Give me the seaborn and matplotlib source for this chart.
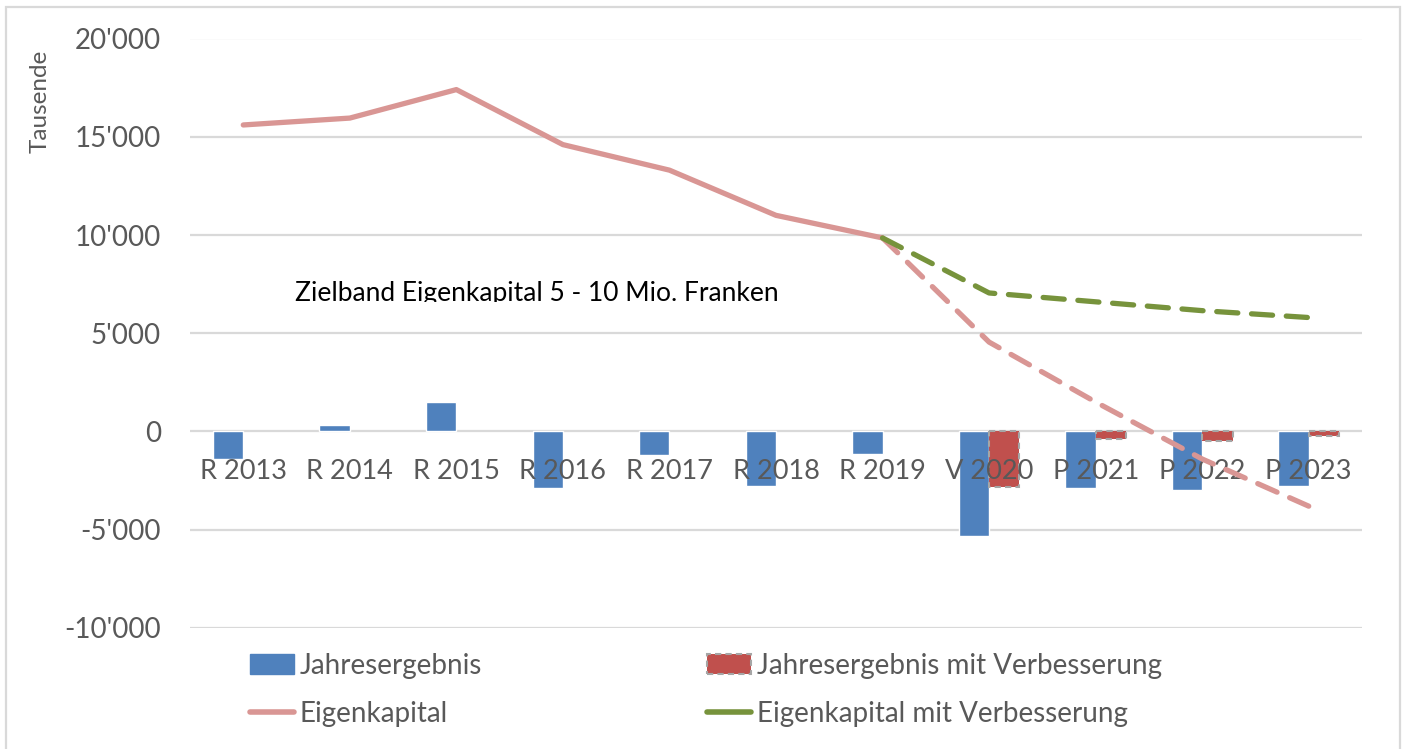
import numpy as np
import pandas as pd
import matplotlib
matplotlib.use("Agg")
import matplotlib.pyplot as plt
import seaborn as sns
from matplotlib.patches import Patch, Rectangle
from matplotlib.lines import Line2D
from matplotlib.ticker import FuncFormatter, MultipleLocator
from matplotlib.transforms import Bbox, TransformedBbox

# Data (Tausende CHF)
categories = ["R 2013", "R 2014", "R 2015", "R 2016", "R 2017", "R 2018",
              "R 2019", "V 2020", "P 2021", "P 2022", "P 2023"]
jahresergebnis = [-1400, 350, 1500, -2850, -1200, -2750, -1150, -5300, -2900, -3000, -2750]
jahresergebnis_verb = [np.nan] * 7 + [-2800, -400, -500, -250]
eigenkapital = [15600, 15950, 17400, 14600, 13300, 11000, 9850, 4550, 1500, -1400, -3800]
eigenkapital_verb = [np.nan] * 6 + [9850, 7050, 6600, 6150, 5800]
last_actual = 6  # index of R 2019, projections start here

blue = "#4F81BD"
red = "#C0504D"
pink = "#D99694"
green = "#77933C"
grey_text = "#595959"

sns.set_style("white")
plt.rcParams['font.family'] = ['Lato', 'DejaVu Sans']

fig = plt.figure(figsize=(14.06, 7.49), dpi=100)
ax = fig.add_axes([190 / 1406, 1 - 628 / 749, (1362 - 190) / 1406, (628 - 38.5) / 749])

# Bars
df_bar = pd.DataFrame({
    'Jahr': categories * 2,
    'Serie': ['Jahresergebnis'] * len(categories) + ['Jahresergebnis mit Verbesserung'] * len(categories),
    'Wert': jahresergebnis + jahresergebnis_verb,
})
sns.barplot(data=df_bar, x='Jahr', y='Wert', hue='Serie', order=categories,
            palette=[blue, red], width=0.57, saturation=1, errorbar=None,
            legend=False, ax=ax)
for bar in ax.containers[1]:
    bar.set_edgecolor("#A6A6A6")
    bar.set_linestyle((0, (3, 2)))
    bar.set_linewidth(1.5)

# Lines
idx = np.arange(len(categories))
ek = np.array(eigenkapital)
ekv = np.array(eigenkapital_verb)
sns.lineplot(x=idx[:last_actual + 1], y=ek[:last_actual + 1], color=pink, lw=3.8,
             solid_capstyle='round', ax=ax)
sns.lineplot(x=idx[last_actual:], y=ek[last_actual:], color=pink, lw=3.8,
             linestyle=(0, (4, 2.6)), dash_capstyle='round', ax=ax)
sns.lineplot(x=idx[last_actual:], y=ekv[last_actual:], color=green, lw=3.8,
             linestyle=(0, (4, 2.6)), dash_capstyle='round', ax=ax)

# Axes styling
ax.set_xlim(-0.5, len(categories) - 0.5)
ax.set_ylim(-10000, 20000)
ax.yaxis.set_major_locator(MultipleLocator(5000))
ax.yaxis.set_major_formatter(FuncFormatter(lambda v, p: f"{int(v):,}".replace(",", "'")))
ax.yaxis.grid(True, color="#D9D9D9", lw=1.6)
ax.set_axisbelow(True)
ax.xaxis.set_zorder(1.5)  # category labels above the bars, below the lines
for s in ax.spines.values():
    s.set_visible(False)
ax.spines['bottom'].set_position(('data', 0))
ax.set_xticks(idx)
ax.set_xticklabels(categories)
ax.tick_params(axis='x', length=0, pad=20, labelsize=19.5, labelcolor=grey_text)
ax.tick_params(axis='y', length=0, pad=21, labelsize=20, labelcolor=grey_text)
ax.set_xlabel("")
ax.set_ylabel("")

fig.text(40 / 1406, 1 - 101 / 749, "Tausende", rotation=90, ha='center', va='center',
         fontsize=17.5, color=grey_text)

# Annotation (cut off at the bottom like in the original)
note = fig.text(295 / 1406, 1 - 301 / 749, "Zielband Eigenkapital 5 - 10 Mio. Franken",
                ha='left', va='baseline', fontsize=19, color='black')
note.set_clip_on(True)
note.set_clip_box(TransformedBbox(Bbox([[0, 1 - 302 / 749], [1, 1]]), fig.transFigure))

# Legend
h1 = [Patch(facecolor=blue, edgecolor=blue), Line2D([], [], color=pink, lw=4, solid_capstyle='round')]
h2 = [Patch(facecolor=red, edgecolor="#A6A6A6", linestyle=(0, (3, 2)), linewidth=1.5),
      Line2D([], [], color=green, lw=4, solid_capstyle='round')]
leg_kw = dict(loc='center left', frameon=False, fontsize=20, handlelength=1.6,
              handletextpad=0.2, borderpad=0, borderaxespad=0, labelspacing=0.8,
              labelcolor=grey_text)
fig.legend(h1, ["Jahresergebnis", "Eigenkapital"], bbox_to_anchor=(250 / 1406, 1 - 690 / 749), **leg_kw)
fig.legend(h2, ["Jahresergebnis mit Verbesserung", "Eigenkapital mit Verbesserung"],
           bbox_to_anchor=(707 / 1406, 1 - 690 / 749), **leg_kw)

# Chart frame
fig.patches.append(Rectangle((6 / 1406, -0.01), (1400 - 6) / 1406, 1.0007,
                             transform=fig.transFigure, fill=False,
                             edgecolor="#D9D9D9", lw=1.6))

fig.savefig("out.png", dpi=100)
